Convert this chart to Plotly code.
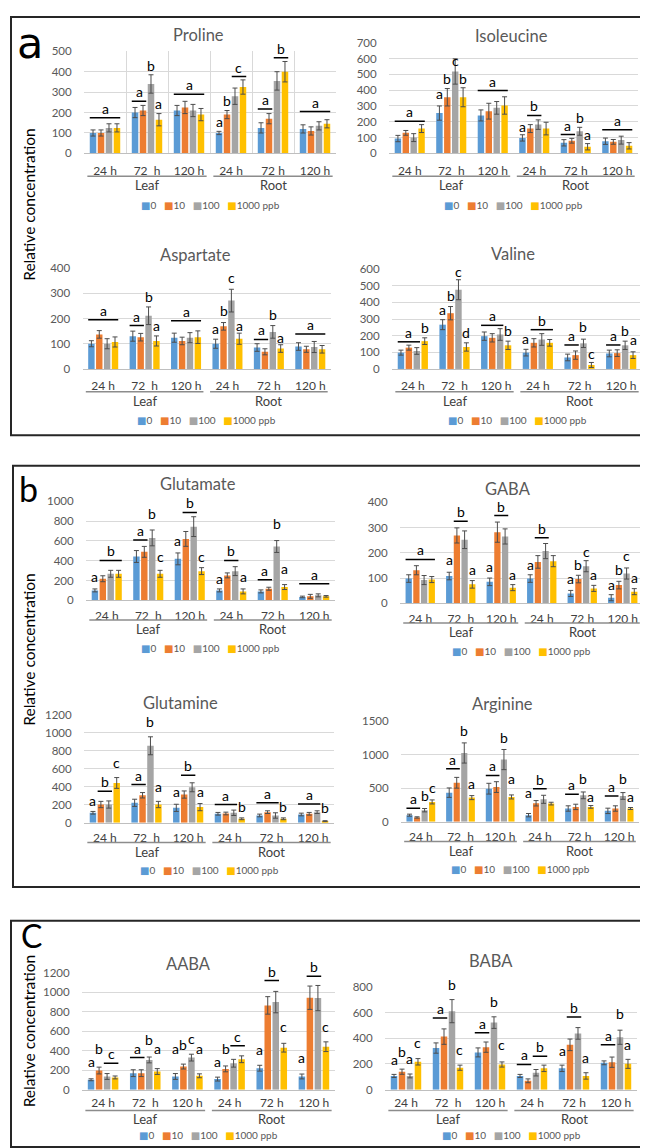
import plotly.graph_objects as go

W, H = 648, 1148
FONT = "Lato, 'Open Sans', 'DejaVu Sans', sans-serif"

CONCENTRATIONS = ["0", "10", "100", "1000 ppb"]
COLORS = ["#5B9BD5", "#ED7D31", "#A5A5A5", "#FFC000"]
TIME_LABELS = ["24 h", "72\u00a0 h", "120 h", "24 h", "72 h", "120 h"]
TISSUES = ["Leaf", "Root"]

# rows = concentration (0, 10, 100, 1000 ppb); columns = Leaf 24/72/120 h, Root 24/72/120 h
PROLINE_MEAN = [[100, 200, 210, 100, 125, 120], [100, 210, 225, 190, 170, 110],
                [125, 340, 210, 280, 355, 135], [125, 165, 190, 325, 400, 145]]
PROLINE_ERR = [[15, 25, 25, 8, 25, 20], [15, 25, 30, 20, 25, 20],
               [20, 45, 30, 40, 45, 20], [20, 30, 30, 35, 50, 20]]
ISOLEUCINE_MEAN = [[94, 255, 240, 98, 67, 77], [130, 355, 267, 157, 80, 73],
                   [100, 518, 288, 182, 140, 84], [157, 355, 303, 157, 42, 48]]
ISOLEUCINE_ERR = [[20, 45, 35, 20, 20, 20], [15, 55, 50, 25, 15, 15],
                  [25, 80, 40, 30, 25, 25], [25, 60, 55, 40, 20, 20]]
ASPARTATE_MEAN = [[100, 130, 124, 100, 85, 89], [137, 126, 111, 169, 68, 78],
                  [100, 211, 124, 271, 147, 87], [107, 111, 126, 120, 81, 78]]
ASPARTATE_ERR = [[12, 20, 18, 18, 15, 15], [15, 15, 15, 15, 12, 12],
                 [20, 35, 20, 45, 25, 22], [20, 20, 25, 22, 15, 15]]
VALINE_MEAN = [[98, 266, 197, 98, 69, 93], [128, 335, 187, 157, 83, 95],
               [108, 476, 207, 177, 154, 142], [167, 132, 142, 157, 24, 83]]
VALINE_ERR = [[15, 30, 25, 20, 20, 20], [15, 40, 25, 25, 25, 20],
              [20, 60, 35, 35, 25, 25], [20, 25, 25, 20, 15, 20]]
GLUTAMATE_MEAN = [[100, 443, 419, 100, 90, 34], [218, 490, 621, 252, 117, 40],
                  [268, 631, 745, 295, 544, 50], [268, 268, 295, 90, 134, 40]]
GLUTAMATE_ERR = [[15, 60, 60, 15, 15, 8], [30, 55, 75, 25, 15, 20],
                 [35, 80, 100, 45, 60, 15], [35, 35, 35, 25, 25, 8]]
GABA_MEAN = [[98, 108, 85, 98, 39, 22], [131, 269, 282, 164, 96, 72],
             [92, 252, 265, 207, 147, 118], [94, 75, 62, 167, 59, 46]]
GABA_ERR = [[15, 15, 15, 15, 12, 12], [18, 30, 40, 25, 15, 15],
            [18, 35, 30, 30, 22, 22], [12, 15, 12, 22, 12, 12]]
GLUTAMINE_MEAN = [[111, 222, 166, 100, 81, 92], [203, 306, 314, 103, 118, 100],
                  [203, 857, 395, 111, 81, 118], [443, 203, 174, 44, 44, 18]]
GLUTAMINE_ERR = [[15, 40, 40, 15, 15, 15], [35, 30, 40, 15, 15, 15],
                 [40, 100, 50, 30, 30, 15], [60, 35, 40, 10, 10, 5]]
ARGININE_MEAN = [[98, 433, 492, 98, 197, 162], [64, 580, 516, 275, 221, 197],
                 [172, 1023, 925, 334, 393, 384], [295, 359, 369, 270, 221, 197]]
ARGININE_ERR = [[15, 70, 80, 25, 40, 40], [10, 80, 80, 40, 40, 40],
                [25, 150, 150, 60, 50, 50], [30, 30, 30, 20, 20, 15]]
AABA_MEAN = [[102, 170, 136, 109, 221, 136], [197, 170, 238, 214, 867, 946],
             [136, 306, 330, 272, 901, 942], [126, 187, 143, 313, 432, 442]]
AABA_ERR = [[10, 35, 30, 20, 30, 25], [35, 35, 25, 30, 90, 120],
            [30, 30, 35, 40, 110, 130], [15, 30, 20, 35, 45, 50]]
BABA_MEAN = [[107, 324, 290, 107, 166, 209], [140, 413, 331, 69, 349, 214],
             [107, 611, 522, 132, 438, 408], [217, 171, 196, 166, 107, 201]]
BABA_ERR = [[12, 40, 35, 12, 25, 15], [20, 60, 40, 15, 45, 40],
            [15, 90, 45, 25, 45, 55], [25, 20, 20, 25, 25, 35]]

# significance letters: (time group, first bar, last bar, letter, level, underline?)
PROLINE_SIG = [(0, 0, 3, "a", 175, 1), (1, 0, 1, "a", 255, 1), (1, 2, 2, "b", 419, 0),
               (1, 3, 3, "a", 234, 0), (2, 0, 3, "a", 290, 1), (3, 0, 0, "a", 145, 0),
               (3, 1, 1, "b", 250, 0), (3, 2, 3, "c", 376, 1), (4, 0, 1, "a", 218, 1),
               (4, 2, 3, "b", 468, 1), (5, 0, 3, "a", 205, 1)]
ISOLEUCINE_SIG = [(0, 0, 3, "a", 203, 1), (1, 0, 0, "a", 366, 0), (1, 1, 1, "b", 460, 0),
                  (1, 2, 2, "c", 575, 0), (1, 3, 3, "b", 460, 0), (2, 0, 3, "a", 397, 1),
                  (3, 0, 0, "a", 157, 0), (3, 1, 2, "b", 240, 1), (4, 0, 1, "a", 119, 1),
                  (4, 2, 2, "b", 213, 0), (4, 3, 3, "a", 108, 0), (5, 0, 3, "a", 150, 1)]
ASPARTATE_SIG = [(0, 0, 3, "a", 195, 1), (1, 0, 1, "a", 172, 1), (1, 2, 2, "b", 280, 0),
                 (1, 3, 3, "a", 165, 0), (2, 0, 3, "a", 191, 1), (3, 0, 0, "a", 152, 0),
                 (3, 1, 1, "b", 224, 0), (3, 2, 2, "c", 356, 0), (3, 3, 3, "a", 165, 0),
                 (4, 0, 1, "a", 117, 1), (4, 2, 2, "b", 208, 0), (4, 3, 3, "a", 117, 0),
                 (5, 0, 3, "a", 139, 1)]
VALINE_SIG = [(0, 0, 2, "a", 163, 1), (0, 3, 3, "b", 236, 0), (1, 0, 0, "a", 344, 0),
              (1, 1, 1, "b", 427, 0), (1, 2, 2, "c", 571, 0), (1, 3, 3, "d", 207, 0),
              (2, 0, 2, "a", 262, 1), (2, 3, 3, "b", 216, 0), (3, 0, 0, "a", 173, 0),
              (3, 1, 3, "b", 236, 1), (4, 0, 1, "a", 144, 1), (4, 2, 2, "b", 246, 0),
              (4, 3, 3, "c", 83, 0), (5, 0, 1, "a", 144, 1), (5, 2, 2, "b", 216, 0),
              (5, 3, 3, "a", 167, 0)]
GLUTAMATE_SIG = [(0, 0, 0, "a", 218, 0), (0, 1, 3, "b", 403, 1), (1, 0, 1, "a", 611, 1),
                 (1, 2, 2, "b", 856, 0), (1, 3, 3, "c", 419, 0), (2, 0, 0, "a", 580, 0),
                 (2, 1, 2, "b", 889, 1), (2, 3, 3, "c", 426, 0), (3, 0, 0, "a", 201, 0),
                 (3, 1, 2, "b", 403, 1), (3, 3, 3, "a", 218, 0), (4, 0, 1, "a", 208, 1),
                 (4, 2, 2, "b", 755, 0), (4, 3, 3, "a", 302, 0), (5, 0, 3, "a", 168, 1)]
GABA_SIG = [(0, 0, 3, "a", 174, 1), (1, 0, 0, "a", 164, 0), (1, 1, 2, "b", 325, 1),
            (1, 3, 3, "a", 125, 0), (2, 0, 0, "a", 138, 0), (2, 1, 2, "b", 348, 1),
            (2, 3, 3, "a", 108, 0), (3, 0, 0, "a", 144, 0), (3, 1, 2, "b", 260, 1),
            (4, 0, 0, "a", 89, 0), (4, 1, 1, "b", 147, 0), (4, 2, 2, "c", 199, 0),
            (4, 3, 3, "a", 105, 0), (5, 0, 0, "a", 66, 0), (5, 1, 1, "b", 125, 0),
            (5, 2, 2, "c", 180, 0), (5, 3, 3, "a", 96, 0)]
GLUTAMINE_SIG = [(0, 0, 0, "a", 222, 0), (0, 1, 2, "b", 351, 1), (0, 3, 3, "c", 654, 0),
                 (1, 0, 1, "a", 425, 1), (1, 2, 2, "b", 1108, 0), (1, 3, 3, "a", 380, 0),
                 (2, 0, 0, "a", 321, 0), (2, 1, 2, "b", 528, 1), (2, 3, 3, "a", 321, 0),
                 (3, 0, 2, "a", 203, 1), (3, 3, 3, "b", 155, 0), (4, 0, 2, "a", 222, 1),
                 (4, 3, 3, "b", 155, 0), (5, 0, 2, "a", 210, 1), (5, 3, 3, "b", 148, 0)]
ARGININE_SIG = [(0, 0, 1, "a", 202, 1), (0, 2, 2, "b", 359, 0), (0, 3, 3, "c", 482, 0),
                (1, 0, 1, "a", 787, 1), (1, 2, 2, "b", 1328, 0), (1, 3, 3, "a", 541, 0),
                (2, 0, 1, "a", 689, 1), (2, 2, 2, "b", 1230, 0), (2, 3, 3, "a", 615, 0),
                (3, 0, 0, "a", 408, 0), (3, 1, 2, "b", 492, 1), (4, 0, 1, "a", 408, 1),
                (4, 2, 2, "b", 615, 0), (4, 3, 3, "a", 349, 0), (5, 0, 1, "a", 384, 1),
                (5, 2, 2, "b", 615, 0), (5, 3, 3, "a", 349, 0)]
AABA_SIG = [(0, 0, 0, "a", 272, 0), (0, 1, 1, "b", 401, 0), (0, 2, 3, "c", 272, 1),
            (1, 0, 1, "a", 330, 1), (1, 2, 2, "b", 500, 0), (1, 3, 3, "a", 401, 0),
            (2, 0, 0, "a", 401, 0), (2, 1, 1, "b", 442, 0), (2, 2, 2, "c", 510, 0),
            (2, 3, 3, "a", 401, 0), (3, 0, 0, "a", 272, 0), (3, 1, 1, "b", 398, 0),
            (3, 2, 3, "c", 452, 1), (4, 0, 0, "a", 391, 0), (4, 1, 2, "b", 1122, 1),
            (4, 3, 3, "c", 629, 0), (5, 0, 0, "a", 313, 0), (5, 1, 2, "b", 1167, 1),
            (5, 3, 3, "c", 629, 0)]
BABA_SIG = [(0, 0, 0, "a", 222, 0), (0, 1, 1, "b", 278, 0), (0, 2, 2, "a", 227, 0),
            (0, 3, 3, "c", 349, 0), (1, 0, 1, "a", 558, 1), (1, 2, 2, "b", 800, 0),
            (1, 3, 3, "c", 298, 0), (2, 0, 1, "a", 443, 1), (2, 2, 2, "b", 667, 0),
            (2, 3, 3, "c", 336, 0), (3, 0, 1, "a", 196, 1), (3, 2, 3, "b", 260, 1),
            (4, 0, 0, "a", 293, 0), (4, 1, 2, "b", 566, 1), (4, 3, 3, "a", 234, 0),
            (5, 0, 1, "a", 349, 1), (5, 2, 2, "b", 578, 0), (5, 3, 3, "a", 336, 0)]

CHARTS = [
    ("Proline", PROLINE_MEAN, PROLINE_ERR, PROLINE_SIG),
    ("Isoleucine", ISOLEUCINE_MEAN, ISOLEUCINE_ERR, ISOLEUCINE_SIG),
    ("Aspartate", ASPARTATE_MEAN, ASPARTATE_ERR, ASPARTATE_SIG),
    ("Valine", VALINE_MEAN, VALINE_ERR, VALINE_SIG),
    ("Glutamate", GLUTAMATE_MEAN, GLUTAMATE_ERR, GLUTAMATE_SIG),
    ("GABA", GABA_MEAN, GABA_ERR, GABA_SIG),
    ("Glutamine", GLUTAMINE_MEAN, GLUTAMINE_ERR, GLUTAMINE_SIG),
    ("Arginine", ARGININE_MEAN, ARGININE_ERR, ARGININE_SIG),
    ("AABA", AABA_MEAN, AABA_ERR, AABA_SIG),
    ("BABA", BABA_MEAN, BABA_ERR, BABA_SIG),
]

# ---------- layout geometry (pixels) ----------
GEOM = [
    dict(x0=76, x1=328, y0=36.7, y1=140, ymax=500, dtick=100, tx=190, ty=20, row=0),
    dict(x0=381, x1=630, y0=28, y1=140, ymax=700, dtick=100, tx=503, ty=21, row=0),
    dict(x0=74.5, x1=323, y0=256, y1=358, ymax=400, dtick=100, tx=187, ty=243, row=0),
    dict(x0=384, x1=634, y0=257, y1=358, ymax=600, dtick=100, tx=505, ty=242, row=0),
    dict(x0=78, x1=327, y0=492, y1=592, ymax=1000, dtick=200, tx=190, ty=474, row=1),
    dict(x0=392, x1=635, y0=493, y1=595, ymax=400, dtick=100, tx=500, ty=479, row=1),
    dict(x0=76, x1=326, y0=708, y1=817, ymax=1200, dtick=200, tx=172, ty=696, row=1),
    dict(x0=393, x1=631, y0=714, y1=816, ymax=1500, dtick=500, tx=495, ty=697, row=1),
    dict(x0=74, x1=327, y0=969, y1=1087, ymax=1200, dtick=200, tx=180, ty=960, row=2),
    dict(x0=377, x1=629, y0=983, y1=1087, ymax=800, dtick=200, tx=483, ty=957, row=2),
]
ROW_OFF = [dict(tick=6, line=23, group=32, legend=52),
           dict(tick=4, line=20, group=29.5, legend=48),
           dict(tick=2, line=21, group=30, legend=46)]
PANELS = [dict(x0=3, y0=2, x1=641, y1=425, label="a", lx=22, ly=1, lsize=43,
               lfont="'DejaVu Sans', sans-serif", anchor="top", ty=192),
          dict(x0=5, y0=456, x1=644, y1=882, label="b", lx=20, ly=479, lsize=34,
               lfont=FONT, anchor="middle", ty=642),
          dict(x0=3, y0=916, x1=644, y1=1145, label="C", lx=23, ly=931, lsize=32,
               lfont=FONT, anchor="middle", ty=1028)]

STEP, BAR_W = 0.19, 0.155
ERR_COLOR = "#4d4d4d"
GRID = "#D9D9D9"
TXT = "#595959"
DARK = "#404040"


def px(x):
    return x / W


def py(y):
    return 1 - y / H


fig = go.Figure()
shapes, annotations = [], []
layout_axes = {}

for k, (name, means, errs, sigs) in enumerate(CHARTS):
    g = GEOM[k]
    off = ROW_OFF[g["row"]]
    suf = "" if k == 0 else str(k + 1)
    xa, ya = "x" + suf, "y" + suf
    hpx = g["y1"] - g["y0"]
    for i in range(4):
        fig.add_trace(go.Bar(
            x=list(range(6)), y=means[i], name=CONCENTRATIONS[i],
            marker=dict(color=COLORS[i], line=dict(width=0)),
            width=BAR_W, offset=(i - 1.5) * STEP - BAR_W / 2,
            error_y=dict(type="data", array=errs[i], color=ERR_COLOR,
                         thickness=1, width=2.5),
            xaxis=xa, yaxis=ya, showlegend=False))

    xdict = dict(domain=[px(g["x0"]), px(g["x1"])], range=[-0.5, 5.5],
                 tickvals=list(range(6)), ticktext=TIME_LABELS, anchor=ya,
                 showline=True, linecolor="#BFBFBF", linewidth=1,
                 ticks="outside", ticklen=off["tick"], tickcolor="rgba(0,0,0,0)",
                 tickfont=dict(family=FONT, size=12, color=DARK),
                 showgrid=False, zeroline=False, fixedrange=True)
    if k == 0:
        xdict["minor"] = dict(tickvals=[0.5, 1.5, 2.5, 3.5, 4.5], showgrid=True,
                              gridcolor=GRID, gridwidth=1, ticks="")
    ydict = dict(domain=[py(g["y1"]), py(g["y0"])], range=[0, g["ymax"]],
                 tick0=0, dtick=g["dtick"], anchor=xa,
                 showline=False, zeroline=False, showgrid=True, gridcolor=GRID,
                 ticks="outside", ticklen=9, tickcolor="rgba(0,0,0,0)",
                 tickfont=dict(family=FONT, size=11.5, color=TXT), fixedrange=True)
    layout_axes["xaxis" + suf] = xdict
    layout_axes["yaxis" + suf] = ydict

    # chart title
    annotations.append(dict(text=name, xref="paper", yref="paper", x=px(g["tx"]), y=py(g["ty"]),
                            xanchor="center", yanchor="middle", showarrow=False,
                            font=dict(family=FONT, size=16.5, color=TXT)))

    # significance letters and bars
    for (c, i0, i1, letter, level, line) in sigs:
        xc = c + ((i0 + i1) / 2 - 1.5) * STEP
        if line:
            shapes.append(dict(type="line", xref=xa, yref=ya,
                               x0=c + (i0 - 1.5) * STEP - BAR_W / 2,
                               x1=c + (i1 - 1.5) * STEP + BAR_W / 2,
                               y0=level, y1=level, line=dict(color="black", width=1.5)))
        annotations.append(dict(text=letter, xref=xa, yref=ya, x=xc, y=level,
                                yshift=9.5 if line else 2, xanchor="center", yanchor="middle",
                                showarrow=False, font=dict(family=FONT, size=14, color="black")))

    # tissue underlines and labels
    for t, tissue in enumerate(TISSUES):
        c0 = 3 * t - 0.42
        c1 = 3 * t + 2.42
        yd = -off["line"] / hpx
        shapes.append(dict(type="line", xref=xa + " domain", yref=ya + " domain",
                           x0=(c0 + 0.5) / 6, x1=(c1 + 0.5) / 6, y0=yd, y1=yd,
                           line=dict(color="#8c8c8c", width=1.5)))
        annotations.append(dict(text=tissue, xref=xa + " domain", yref=ya + " domain",
                                x=(3 * t + 1 + 0.5) / 6, y=-off["group"] / hpx,
                                xanchor="center", yanchor="middle", showarrow=False,
                                font=dict(family=FONT, size=13, color=DARK)))

    # legend row
    parts = [f"<span style='color:{COLORS[i]}'>■</span>{CONCENTRATIONS[i]}" for i in range(4)]
    annotations.append(dict(text="&nbsp;&nbsp;&nbsp;".join(parts), xref=xa + " domain",
                            yref=ya + " domain", x=0.5, y=-off["legend"] / hpx,
                            xanchor="center", yanchor="middle", showarrow=False,
                            font=dict(family=FONT, size=10, color=TXT)))

# panel frames, letters, y titles
for p in PANELS:
    shapes.append(dict(type="rect", xref="paper", yref="paper",
                       x0=px(p["x0"]), x1=px(p["x1"]), y0=py(p["y1"]), y1=py(p["y0"]),
                       line=dict(color="#262626", width=2), fillcolor="rgba(0,0,0,0)"))
    annotations.append(dict(text=p["label"], xref="paper", yref="paper",
                            x=px(p["lx"]), y=py(p["ly"]), xanchor="center", yanchor=p["anchor"],
                            showarrow=False,
                            font=dict(family=p["lfont"], size=p["lsize"], color="black")))
    annotations.append(dict(text="Relative concentration", xref="paper", yref="paper",
                            x=px(21), y=py(p["ty"]), textangle=-90,
                            xanchor="center", yanchor="middle", showarrow=False,
                            font=dict(family=FONT, size=15.5, color="black")))

fig.update_layout(
    width=W, height=H, margin=dict(l=0, r=0, t=0, b=0),
    paper_bgcolor="white", plot_bgcolor="white",
    barmode="overlay", showlegend=False,
    shapes=shapes, annotations=annotations,
    font=dict(family=FONT),
    **layout_axes,
)

fig.write_html("out.html")
